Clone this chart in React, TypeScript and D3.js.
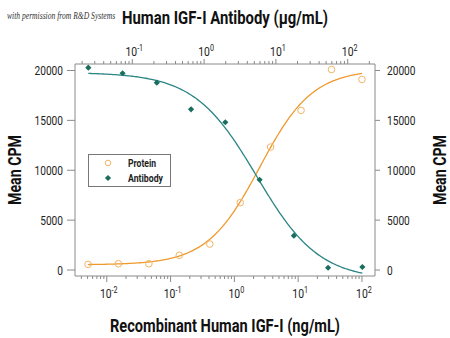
import React from "react";
import * as d3 from "d3";

// Protein (ng/mL, bottom axis)
const proteinConc = [0.00508, 0.01524, 0.0457, 0.137, 0.412, 1.235, 3.70, 11.1, 33.3, 100];
const proteinCPM = [570, 630, 630, 1470, 2600, 6750, 12330, 16000, 20100, 19100];
// Antibody (µg/mL, top axis)
const antibodyConc = [0.0244, 0.0732, 0.2195, 0.658, 1.975, 5.93, 17.8, 53.3, 160];
const antibodyCPM = [20280, 19720, 18780, 16110, 14810, 9050, 3440, 230, 300];
// 4PL fit parameters: [low asymptote, high asymptote, ec50, hill]
const proteinFit = [520, 20100, 2.5, 1.05];
const antibodyFit = [-1000, 19800, 5.4, 1.0];

const yTicks = [0, 5000, 10000, 15000, 20000];
const bottomDecades = [-2, -1, 0, 1, 2];
const topDecades = [-1, 0, 1, 2];
const legendLabels = ["Protein", "Antibody"];

const W = 450, H = 338;
const L = 75, R = 375, T = 65, B = 276;
const FONT = "Roboto, 'Liberation Sans', sans-serif";
const ORANGE = "#ee9a2e";
const ORANGE_PT = "#f3b566";
const GREEN = "#1a6e5e";
const GREEN_LINE = "#2a8584";
const AXIS = "#8a8a8a";

const rising = (p: number[]) => (x: number) => p[1] + (p[0] - p[1]) / (1 + Math.pow(x / p[2], p[3]));
const falling = (p: number[]) => (x: number) => p[0] + (p[1] - p[0]) / (1 + Math.pow(x / p[2], p[3]));

function logTicks(domain: [number, number]) {
  const out: { v: number; major: boolean }[] = [];
  for (let e = -4; e <= 4; e++) {
    for (let m = 1; m <= 9; m++) {
      const v = m * Math.pow(10, e);
      if (v >= domain[0] && v <= domain[1]) out.push({ v, major: m === 1 });
    }
  }
  return out;
}

function Pow10({ x, y, e }: { x: number; y: number; e: number }) {
  return (
    <text transform={`translate(${x},${y}) scale(0.8,1)`} textAnchor="middle" fontFamily={FONT} fontSize={13} fill="#222">
      10<tspan dy={-5} fontSize={9}>{e}</tspan>
    </text>
  );
}

function logGrid(arr: number[]) {
  const lo = Math.log10(arr[0]), hi = Math.log10(arr[arr.length - 1]);
  return d3.range(0, 201).map((i) => Math.pow(10, lo + ((hi - lo) * i) / 200));
}

export default function App() {
  const xB = d3.scaleLog().domain([Math.pow(10, -2.498), Math.pow(10, 2.204)]).range([L, R]);
  const xT = d3.scaleLog().domain([Math.pow(10, -1.798), Math.pow(10, 2.38)]).range([L, R]);
  const y = d3.scaleLinear().domain([-601, 20551]).range([B, T]);

  const fP = rising(proteinFit);
  const fA = falling(antibodyFit);
  const lineP = d3.line<number>().x((d) => xB(d)).y((d) => y(fP(d)));
  const lineA = d3.line<number>().x((d) => xT(d)).y((d) => y(fA(d)));

  const bTicks = logTicks(xB.domain() as [number, number]);
  const tTicks = logTicks(xT.domain() as [number, number]);
  const diamond = d3.symbol().type(d3.symbolSquare).size(19)() || "";

  return (
    <svg width={W} height={H} style={{ position: "absolute", left: 0, top: 0, background: "#fff" }}>
      <rect x={0} y={0} width={W} height={H} fill="#fff" />
      {/* frame */}
      <line x1={L} x2={L} y1={T - 1} y2={B} stroke={AXIS} strokeWidth={1} />
      <line x1={R} x2={R} y1={T - 1} y2={B} stroke={AXIS} strokeWidth={1} />
      <line x1={L} x2={R} y1={B} y2={B} stroke={AXIS} strokeWidth={1} />
      <line x1={L} x2={R} y1={T - 1} y2={T - 1} stroke={AXIS} strokeWidth={1} />

      {/* y ticks left & right */}
      {yTicks.map((t) => {
        const s = String(t);
        return (
          <g key={"y" + t}>
            <line x1={L - 8} x2={L} y1={y(t)} y2={y(t)} stroke={AXIS} />
            <line x1={R} x2={R + 5} y1={y(t)} y2={y(t)} stroke={AXIS} />
            <text x={63} y={y(t) + 4.5} textAnchor="end" fontFamily={FONT} fontSize={13} fill="#222"
              textLength={s.length * 5.7} lengthAdjust="spacingAndGlyphs">{s}</text>
            <text x={387} y={y(t) + 4.5} textAnchor="start" fontFamily={FONT} fontSize={13} fill="#222"
              textLength={s.length * 5.7} lengthAdjust="spacingAndGlyphs">{s}</text>
          </g>
        );
      })}

      {/* bottom ticks */}
      {bTicks.map((t, i) => (
        <line key={"b" + i} x1={xB(t.v)} x2={xB(t.v)} y1={B} y2={B + (t.major ? 6 : 3)} stroke={AXIS} />
      ))}
      {bottomDecades.map((e) => (
        <Pow10 key={"bl" + e} x={xB(Math.pow(10, e)) + 2} y={298} e={e} />
      ))}

      {/* top ticks */}
      {tTicks.map((t, i) => (
        <line key={"t" + i} x1={xT(t.v)} x2={xT(t.v)} y1={T - 1} y2={T - 1 - (t.major ? 5 : 3)} stroke={AXIS} />
      ))}
      {topDecades.map((e) => (
        <Pow10 key={"tl" + e} x={xT(Math.pow(10, e)) + 2} y={56} e={e} />
      ))}

      {/* curves */}
      <path d={lineP(logGrid(proteinConc)) || ""} fill="none" stroke={ORANGE} strokeWidth={1.3} />
      <path d={lineA(logGrid(antibodyConc)) || ""} fill="none" stroke={GREEN_LINE} strokeWidth={1.3} />

      {/* points */}
      {proteinConc.map((c, i) => (
        <circle key={"p" + i} cx={xB(c)} cy={y(proteinCPM[i])} r={3.3} fill="none" stroke={ORANGE_PT} strokeWidth={1} />
      ))}
      {antibodyConc.map((c, i) => (
        <path key={"a" + i} d={diamond} transform={`translate(${xT(c)},${y(antibodyCPM[i])}) rotate(45)`} fill={GREEN} />
      ))}

      {/* legend */}
      <rect x={88.5} y={154.5} width={82} height={32} fill="#fff" stroke="#777" strokeWidth={1} />
      <circle cx={108} cy={163} r={2.8} fill="none" stroke={ORANGE_PT} strokeWidth={1} />
      <text x={128} y={166.5} fontFamily={FONT} fontSize={11} fontWeight="bold" fill="#222"
        textLength={28} lengthAdjust="spacingAndGlyphs">{legendLabels[0]}</text>
      <path d={diamond} transform="translate(108,178) rotate(45)" fill={GREEN} />
      <text x={128} y={181.5} fontFamily={FONT} fontSize={11} fontWeight="bold" fill="#222"
        textLength={35} lengthAdjust="spacingAndGlyphs">{legendLabels[1]}</text>

      {/* titles */}
      <text x={122} y={24} fontFamily={FONT} fontSize={19} fontWeight="bold" fill="#111"
        textLength={206} lengthAdjust="spacingAndGlyphs">Human IGF-I Antibody (μg/mL)</text>
      <text x={110} y={332} fontFamily={FONT} fontSize={19} fontWeight="bold" fill="#111"
        textLength={230} lengthAdjust="spacingAndGlyphs">Recombinant Human IGF-I (ng/mL)</text>
      <text transform="translate(21,205) rotate(-90)" fontFamily={FONT} fontSize={19} fontWeight="bold" fill="#111"
        textLength={70} lengthAdjust="spacingAndGlyphs">Mean CPM</text>
      <text transform="translate(446,205) rotate(-90)" fontFamily={FONT} fontSize={19} fontWeight="bold" fill="#111"
        textLength={70} lengthAdjust="spacingAndGlyphs">Mean CPM</text>

      {/* watermark */}
      <text transform="translate(7,19) scale(0.8,1)" fontFamily="'Liberation Serif', serif" fontStyle="italic" fontSize={9.5} fill="#333">with permission from R&amp;D Systems</text>
    </svg>
  );
}
